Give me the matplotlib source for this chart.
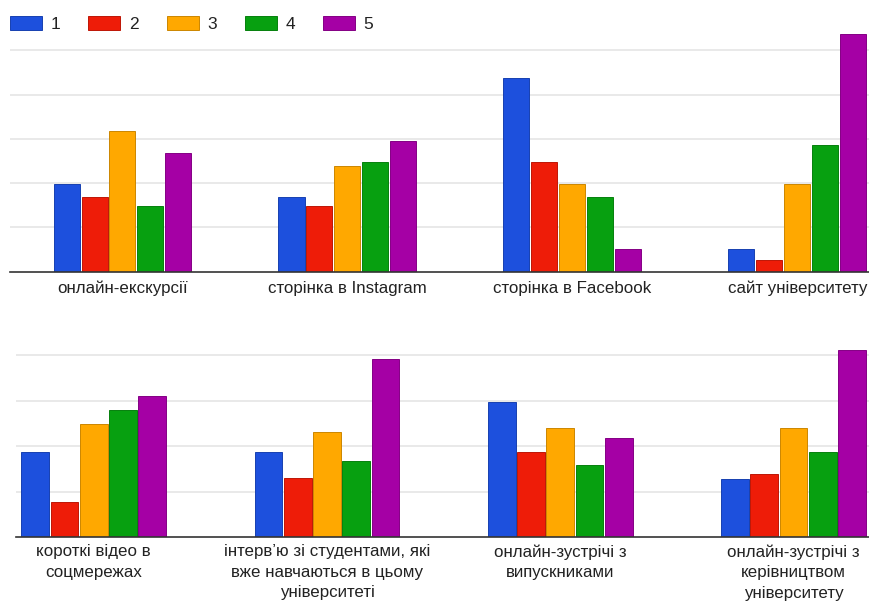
import matplotlib
matplotlib.use("Agg")
import matplotlib.pyplot as plt
import numpy as np
from matplotlib.colors import to_rgb

plt.rcParams["font.family"] = ["Liberation Sans", "DejaVu Sans"]

# ratings 1..5, values (one grid step = 10)
ratings = ["1", "2", "3", "4", "5"]
colors = ["#1d50dd", "#ee1c08", "#ffa800", "#07a010", "#a500a5"]

cats_top = ["онлайн-екскурсії", "сторінка в Instagram",
            "сторінка в Facebook", "сайт університету"]
cats_bottom = ["короткі відео в\nсоцмережах",
               "інтерв’ю зі студентами, які\nвже навчаються в цьому\nуніверситеті",
               "онлайн-зустрічі з\nвипускниками",
               "онлайн-зустрічі з\nкерівництвом\nуніверситету"]

top_r1 = [19.7, 16.8, 43.7, 5.0]
top_r2 = [16.8, 14.8, 24.8, 2.6]
top_r3 = [31.9, 23.9, 19.7, 19.7]
top_r4 = [14.8, 24.8, 16.8, 28.6]
top_r5 = [26.8, 29.6, 5.0, 53.7]

bot_r1 = [18.7, 18.7, 29.8, 12.9]
bot_r2 = [7.8, 13.0, 18.7, 13.9]
bot_r3 = [24.9, 23.0, 23.9, 23.9]
bot_r4 = [27.9, 16.8, 15.8, 18.7]
bot_r5 = [31.0, 39.1, 21.9, 41.1]

W, H = 869, 606
fig = plt.figure(figsize=(W / 100, H / 100), dpi=100)


def px_axes(left, top, right, bottom):
    return fig.add_axes([left / W, 1 - bottom / H, (right - left) / W, (bottom - top) / H])


def draw(ax, cats, series, step, width, xlim, ylim, yticks, pad):
    x = np.arange(len(cats))
    n = len(series)
    bars = []
    for i, (vals, c) in enumerate(zip(series, colors)):
        edge = tuple(v * 0.8 for v in to_rgb(c))
        b = ax.bar(x + (i - (n - 1) / 2) * step, vals, width=width, color=c,
                   edgecolor=edge, linewidth=0.7, zorder=3)
        bars.append(b)
    ax.set_xlim(*xlim)
    ax.set_ylim(*ylim)
    ax.set_yticks(yticks)
    ax.yaxis.grid(True, color="#e3e3e3", linewidth=1.1, zorder=0)
    ax.tick_params(axis="y", left=False, labelleft=False)
    ax.tick_params(axis="x", length=0, pad=pad, labelsize=12.2, labelcolor="#222222")
    ax.set_xticks(x)
    ax.set_xticklabels(cats, linespacing=1.45, va="top")
    for s in ["top", "right", "left"]:
        ax.spines[s].set_visible(False)
    ax.spines["bottom"].set_color("#333333")
    ax.spines["bottom"].set_linewidth(1.2)
    ax.spines["bottom"].set_zorder(4)
    return bars


ax1 = px_axes(10, 20, 869, 271.5)
bars = draw(ax1, cats_top, [top_r1, top_r2, top_r3, top_r4, top_r5],
            0.1244, 0.1156, (-0.5, 3.318), (0, 56.9), [10, 20, 30, 40, 50], 6.5)

ax2 = px_axes(16, 340, 869, 537.3)
draw(ax2, cats_bottom, [bot_r1, bot_r2, bot_r3, bot_r4, bot_r5],
     0.1256, 0.1187, (-0.333, 3.323), (0, 43.3), [10, 20, 30, 40], 5)

fig.legend([b[0] for b in bars], ratings, loc="upper left",
           bbox_to_anchor=(10 / W, 1 - 16 / H), ncol=5, frameon=False,
           fontsize=12.5, handlelength=1.85, handleheight=0.9,
           handletextpad=0.5, columnspacing=1.6, borderpad=0,
           borderaxespad=0, labelcolor="#222222")

fig.savefig("out.png", dpi=100, facecolor="white")
